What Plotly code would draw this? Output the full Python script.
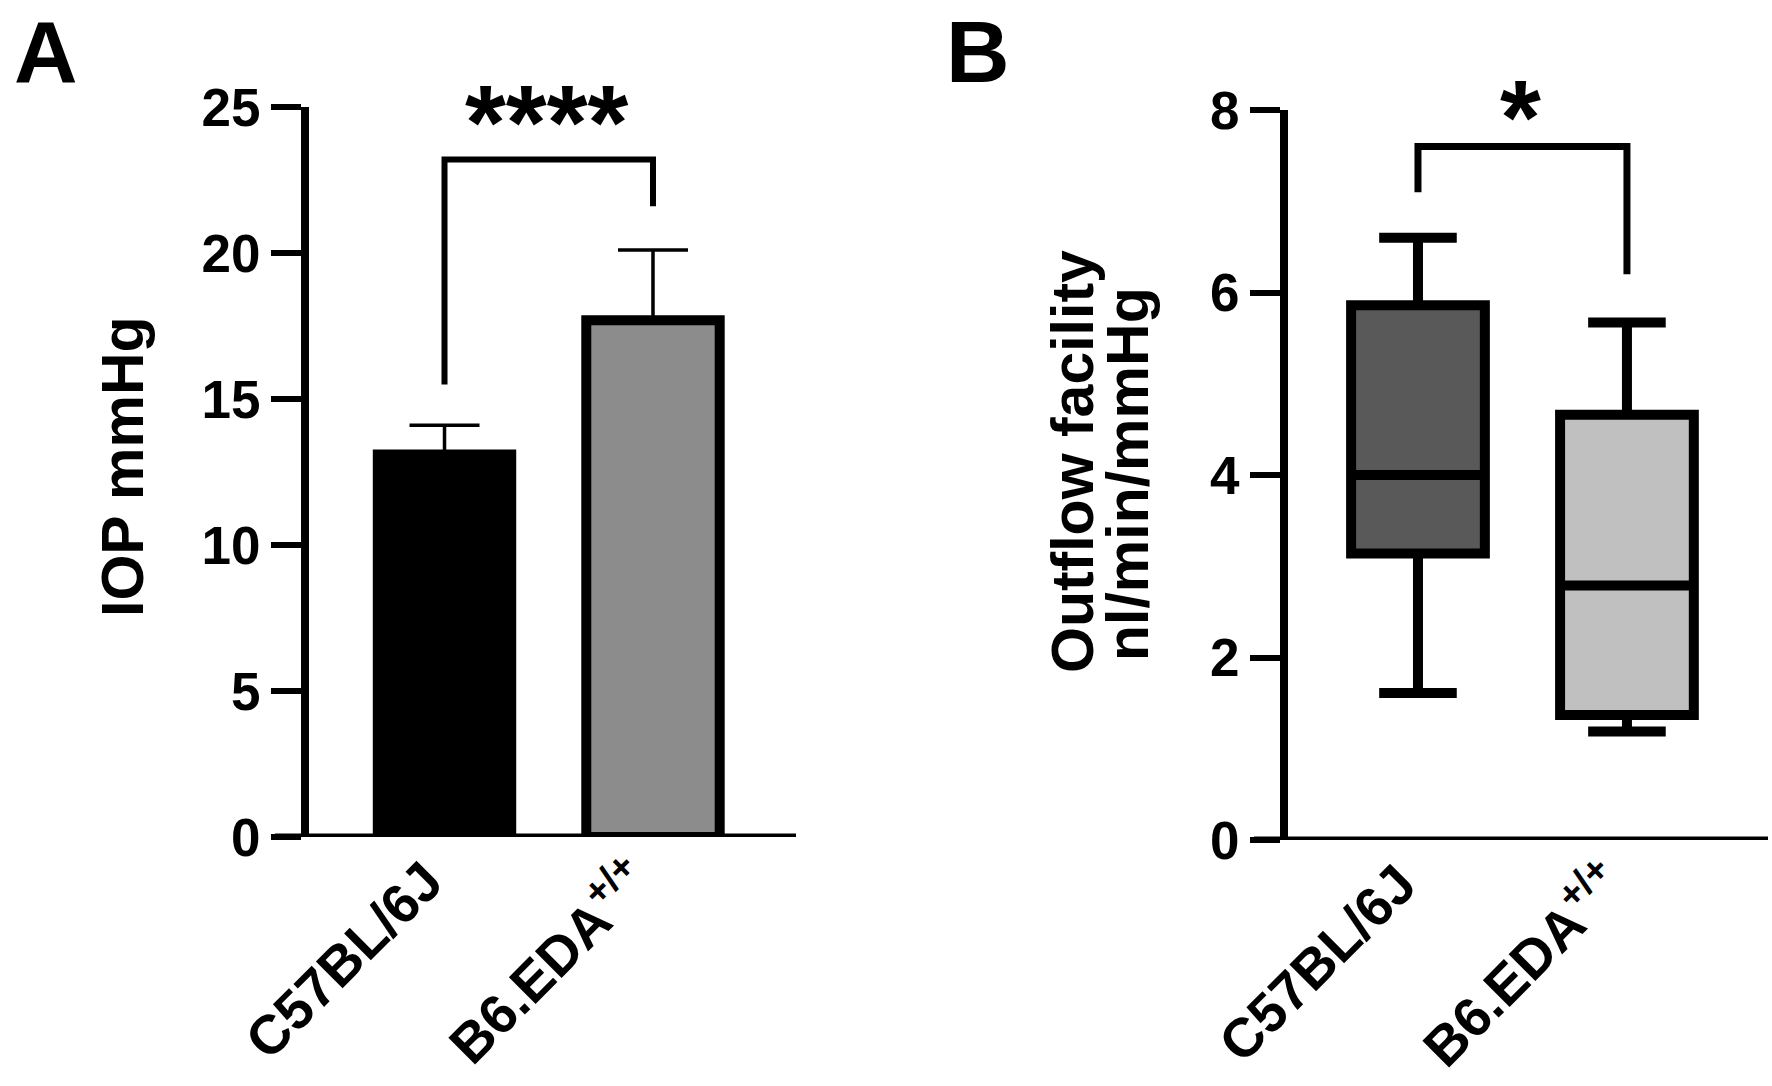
import plotly.graph_objects as go

# ---------------- data ----------------
categories = ["C57BL/6J", "B6.EDA<sup>+/+</sup>"]

# Panel A: IOP (mean + upper error)
iop_mean = [13.1, 17.7]
iop_err = [1.0, 2.4]
iop_colors = ["#000000", "#8c8c8c"]
iop_ticks = [0, 5, 10, 15, 20, 25]
iop_bracket = [15.5, 23.2, 23.2, 21.6]
iop_sig = "****"

# Panel B: outflow facility box plot
of_lower = [1.61, 1.19]
of_q1 = [3.14, 1.37]
of_median = [4.0, 2.79]
of_q3 = [5.86, 4.66]
of_upper = [6.6, 5.67]
of_colors = ["#595959", "#c0c0c0"]
of_ticks = [0, 2, 4, 6, 8]
of_bracket = [7.1, 7.6, 7.6, 6.2]
of_sig = "*"

FONT = "Liberation Sans, Arial, sans-serif"
W, H = 1772, 1086

def px_x(p):
    return p / W

def px_y(p):
    return 1 - p / H

fig = go.Figure()

# ---- Panel A bars ----
for i, cat in enumerate(categories):
    fig.add_trace(go.Bar(
        x=[cat], y=[iop_mean[i]], width=0.64,
        marker=dict(color=iop_colors[i], line=dict(color="black", width=10)),
        error_y=dict(type="data", symmetric=False, array=[iop_err[i]], arrayminus=[0],
                     color="black", thickness=3.5, width=35),
        xaxis="x", yaxis="y", showlegend=False,
    ))

# bracket A
fig.add_trace(go.Scatter(
    x=[categories[0], categories[0], categories[1], categories[1]], y=iop_bracket,
    mode="lines", line=dict(color="black", width=6), xaxis="x", yaxis="y",
    showlegend=False,
))

# ---- Panel B boxes ----
for i, cat in enumerate(categories):
    fig.add_trace(go.Box(
        x=[cat], q1=[of_q1[i]], median=[of_median[i]], q3=[of_q3[i]],
        lowerfence=[of_lower[i]], upperfence=[of_upper[i]],
        width=0.64, whiskerwidth=0.58,
        fillcolor=of_colors[i], line=dict(color="black", width=10),
        boxpoints=False, xaxis="x2", yaxis="y2", showlegend=False,
    ))

fig.add_trace(go.Scatter(
    x=[categories[0], categories[0], categories[1], categories[1]], y=of_bracket,
    mode="lines", line=dict(color="black", width=7), xaxis="x2", yaxis="y2",
    showlegend=False,
))

tickfont = dict(family=FONT, size=53, color="black", weight="bold")
xtickfont = dict(family=FONT, size=55, color="black", weight="bold")

axA_left, axA_right = 309, 796
axB_left, axB_right = 1288, 1768
A_top, A_bot = 107, 837
B_top, B_bot = 110, 840

common_x = dict(type="category", showline=False, ticks="", tickangle=-45,
                ticklabelshift=-18,
                tickfont=xtickfont, showgrid=False, zeroline=False, automargin=False)
common_y = dict(showline=True, linecolor="black", linewidth=8,
                ticks="outside", ticklen=30, tickwidth=6, tickcolor="black",
                tickfont=tickfont, showgrid=False, zeroline=False, automargin=False)

fig.update_layout(
    width=W, height=H,
    margin=dict(l=0, r=0, t=0, b=0, autoexpand=False),
    paper_bgcolor="white", plot_bgcolor="white",
    xaxis=dict(domain=[px_x(axA_left), px_x(axA_right)], range=[-0.650, 1.686], **common_x),
    yaxis=dict(domain=[px_y(A_bot), px_y(A_top)], range=[0, 25], tickvals=iop_ticks, **common_y),
    xaxis2=dict(domain=[px_x(axB_left), px_x(axB_right)], range=[-0.622, 1.675], anchor="y2", **common_x),
    yaxis2=dict(domain=[px_y(B_bot), px_y(B_top)], range=[0, 8], anchor="x2", tickvals=of_ticks, **common_y),
)

# x baselines extending under the y ticks
fig.add_shape(type="line", xref="paper", yref="y", x0=px_x(axA_left - 34), x1=px_x(axA_right),
              y0=0, y1=0, line=dict(color="black", width=7))
fig.add_shape(type="line", xref="paper", yref="y2", x0=px_x(axB_left - 34), x1=px_x(axB_right),
              y0=0, y1=0, line=dict(color="black", width=7))

def note(text, x, y, font, angle=0, yanchor="middle"):
    fig.add_annotation(text=text, xref="paper", yref="paper", x=px_x(x), y=px_y(y),
                       xanchor="center", yanchor=yanchor, textangle=angle,
                       showarrow=False, font=font)

# panel letters (box top at the figure's top edge)
letter_font = dict(family=FONT, size=88, color="black", weight="bold")
note("A", 46, 0, letter_font, yanchor="top")
note("B", 978, 0, letter_font, yanchor="top")

# axis titles
title_font = dict(family=FONT, size=59, color="black", weight="bold")
note("IOP mmHg", 123, 466, title_font, -90)
note("Outflow facility", 1073, 462, title_font, -90)
note("nl/min/mmHg", 1128, 474, title_font, -90)

# significance
sig_font = dict(family=FONT, size=105, color="black", weight="bold")
note(iop_sig, 547, 123, sig_font)
note(of_sig, 1520, 117, sig_font)

fig.write_html("out.html", config={"displayModeBar": False},
               post_script="document.body.style.margin='0';document.body.style.overflow='hidden';")
